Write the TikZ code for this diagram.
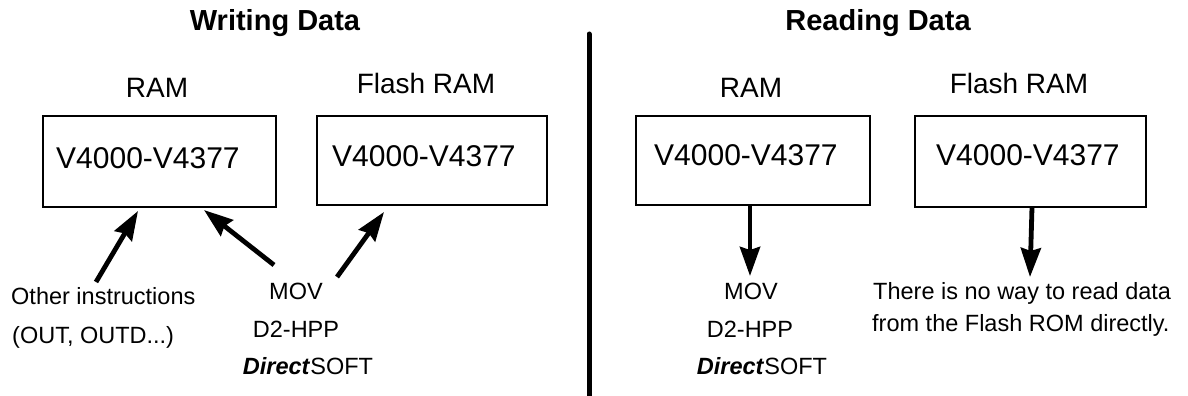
\documentclass[tikz,border=0pt]{standalone}
\usepackage{fontspec}
\setmainfont{Liberation Sans}
\usetikzlibrary{arrows.meta}
\begin{document}
\begin{tikzpicture}[x=1pt,y=-1pt,
  titletext/.style={font=\bfseries\fontsize{29}{32}\selectfont, inner sep=0pt, anchor=base},
  headtext/.style={font=\fontsize{28}{31}\selectfont, inner sep=0pt, anchor=base},
  celltext/.style={font=\fontsize{30}{33}\selectfont, inner sep=0pt, anchor=base west},
  smalltext/.style={font=\fontsize{23.5}{27}\selectfont, inner sep=0pt, anchor=base},
  membox/.style={draw, line width=2pt, inner sep=0pt, outer sep=0pt},
  bigarrow/.style={line width=4.8pt, -{Stealth[length=29pt,width=20pt,inset=3pt]}},
  divider/.style={line width=5pt, line cap=round}
]
\useasboundingbox (0,0) rectangle (1188,396);

% titles
\node[titletext] (tw) at (275,31) {Writing Data};
\node[titletext] (tr) at (878,31) {Reading Data};

% divider
\coordinate (dtop) at (589,34);
\coordinate (dbot) at (589,398);
\draw[divider] (dtop) -- (dbot);

% labels above boxes
\node[headtext] (hramL) at (157,97) {RAM};
\node[headtext] (hflashL) at (426,93) {Flash RAM};
\node[headtext] (hramR) at (751,97) {RAM};
\node[headtext] (hflashR) at (1019,93) {Flash RAM};

% boxes
\node[membox, minimum width=233pt, minimum height=91pt] (ramL) at (159.5,161.5) {};
\node[membox, minimum width=230pt, minimum height=89pt] (flashL) at (432,160.5) {};
\node[membox, minimum width=234pt, minimum height=89pt] (ramR) at (753,160.5) {};
\node[membox, minimum width=231pt, minimum height=91pt] (flashR) at (1030.5,161.5) {};

% box contents
\node[celltext] (vramL) at (56,168) {V4000-V4377};
\node[celltext] (vflashL) at (332,166) {V4000-V4377};
\node[celltext] (vramR) at (654,165) {V4000-V4377};
\node[celltext] (vflashR) at (936,165) {V4000-V4377};

% writing side texts
\node[smalltext, anchor=base west] (other1) at (11,304) {Other instructions};
\node[smalltext, anchor=base west] (other2) at (12,343) {(OUT, OUTD...)};
\node[smalltext] (movL) at (296,299) {MOV};
\node[smalltext] (hppL) at (296,337) {D2-HPP};
\node[smalltext] (dsL) at (308,374) {\textbf{\textit{Direct}}SOFT};

% reading side texts
\node[smalltext] (movR) at (751,299) {MOV};
\node[smalltext] (hppR) at (750,337) {D2-HPP};
\node[smalltext] (dsR) at (762,374) {\textbf{\textit{Direct}}SOFT};
\node[smalltext, anchor=base west] (noway1) at (873,299) {There is no way to read data};
\node[smalltext, anchor=base west] (noway2) at (872,331) {from the Flash ROM directly.};

% arrow end points
\coordinate (a1s) at (96,282);
\coordinate (a1e) at (138,211);
\coordinate (a2s) at (274,265);
\coordinate (a2e) at (204,210);
\coordinate (a3s) at (337,277);
\coordinate (a3e) at (384,212);
\coordinate (a4s) at (750,205);
\coordinate (a4e) at (750,276);
\coordinate (a5s) at (1032,207);
\coordinate (a5e) at (1030,277);

\draw[bigarrow] (a1s) -- (a1e);
\draw[bigarrow] (a2s) -- (a2e);
\draw[bigarrow] (a3s) -- (a3e);
\draw[bigarrow] (a4s) -- (a4e);
\draw[bigarrow] (a5s) -- (a5e);
\end{tikzpicture}
\end{document}
